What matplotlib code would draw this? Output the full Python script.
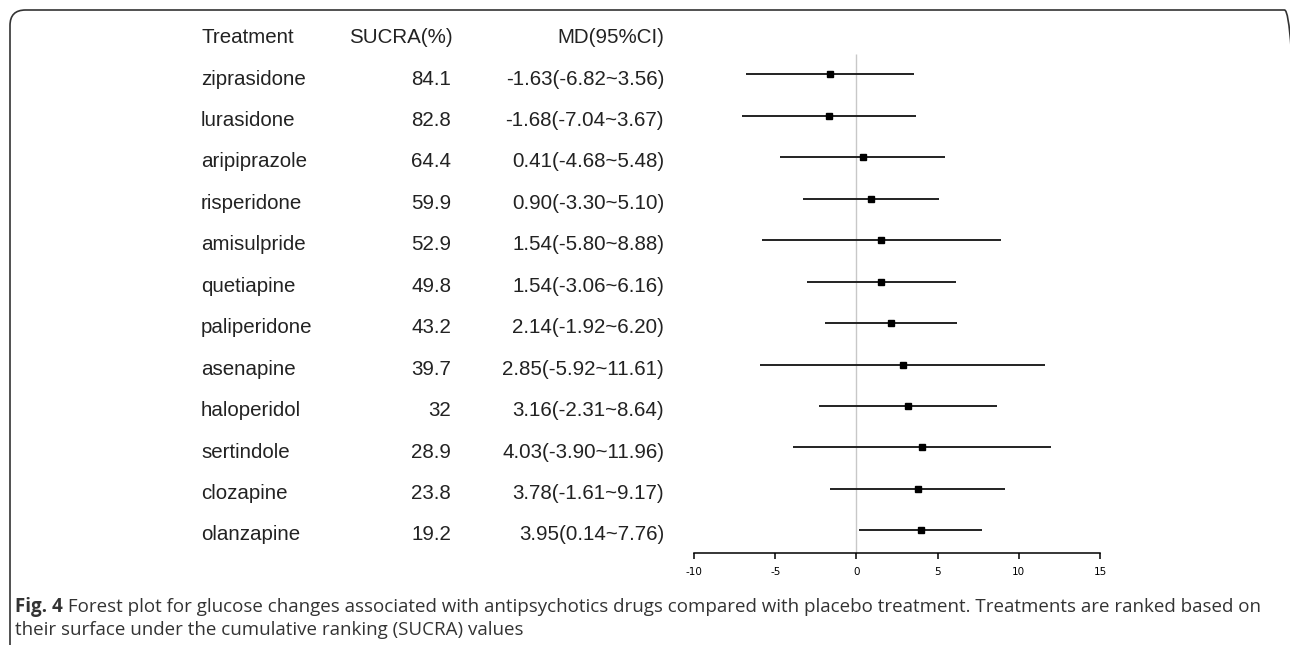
import matplotlib
matplotlib.use("Agg")
import matplotlib.pyplot as plt
import matplotlib.transforms as mtrans
from matplotlib.patches import FancyBboxPatch

plt.rcParams['axes.unicode_minus'] = False

# data
treatments = ['ziprasidone', 'lurasidone', 'aripiprazole', 'risperidone',
              'amisulpride', 'quetiapine', 'paliperidone', 'asenapine',
              'haloperidol', 'sertindole', 'clozapine', 'olanzapine']
sucra = [84.1, 82.8, 64.4, 59.9, 52.9, 49.8, 43.2, 39.7, 32, 28.9, 23.8, 19.2]
md = [-1.63, -1.68, 0.41, 0.90, 1.54, 1.54, 2.14, 2.85, 3.16, 4.03, 3.78, 3.95]
ci_low = [-6.82, -7.04, -4.68, -3.30, -5.80, -3.06, -1.92, -5.92, -2.31, -3.90, -1.61, 0.14]
ci_high = [3.56, 3.67, 5.48, 5.10, 8.88, 6.16, 6.20, 11.61, 8.64, 11.96, 9.17, 7.76]
xticks = [-10, -5, 0, 5, 10, 15]

caption_bold = 'Fig. 4'
caption_1 = (' Forest plot for glucose changes associated with antipsychotics drugs '
             'compared with placebo treatment. Treatments are ranked based on')
caption_2 = 'their surface under the cumulative ranking (SUCRA) values'

W, H = 1290, 645
fig = plt.figure(figsize=(W / 100, H / 100), dpi=100)


def fx(px):
    return px / W


def fy(py):
    return 1 - py / H


# rounded frame
frame = FancyBboxPatch((fx(10), fy(660)), fx(1290), fy(10) - fy(660),
                       boxstyle='round,pad=0,rounding_size=0.012',
                       transform=fig.transFigure, fill=False,
                       edgecolor='#333333', linewidth=1.2, mutation_aspect=2)
fig.patches.append(frame)

# forest axis, pixel box 694..1100 x 20..553
ax = fig.add_axes([fx(694), fy(553), fx(1100) - fx(694), fy(20) - fy(553)])
row0, step = 33.0, 41.45
ax.set_ylim((553 - row0) / step, (20 - row0) / step)
ax.set_xlim(-10, 15)
for s in ['top', 'right', 'left']:
    ax.spines[s].set_visible(False)
ax.spines['bottom'].set_linewidth(1.1)
ax.set_yticks([])
ax.set_xticks(xticks)
ax.set_xticklabels([str(t) for t in xticks])
ax.tick_params(axis='x', length=4, width=1.1, labelsize=7.5, pad=6)
ax.patch.set_alpha(0)

ax.vlines(0, (54 - row0) / step, (553 - row0) / step, color='#c8c8c8', linewidth=1)

rows = list(range(1, len(treatments) + 1))
ax.hlines(rows, ci_low, ci_high, color='#222222', linewidth=1.4)
ax.plot(md, rows, 's', color='black', markersize=4.8, linestyle='none')

# table text
tt = mtrans.blended_transform_factory(fig.transFigure, ax.transData)
fs = 14.8
font = 'Liberation Sans'
tc = '#222222'
off = 0.11
ax.text(fx(201), off, 'Treatment', transform=tt, ha='left', va='center',
        fontsize=fs, family=font, color=tc)
ax.text(fx(453), off, 'SUCRA(%)', transform=tt, ha='right', va='center',
        fontsize=fs, family=font, color=tc)
ax.text(fx(664), off, 'MD(95%CI)', transform=tt, ha='right', va='center',
        fontsize=fs, family=font, color=tc)
for r, name, s, m, lo, hi in zip(rows, treatments, sucra, md, ci_low, ci_high):
    ax.text(fx(201), r + off, name, transform=tt, ha='left', va='center',
            fontsize=fs, family=font, color=tc)
    ax.text(fx(451), r + off, f'{s:g}', transform=tt, ha='right', va='center',
            fontsize=fs, family=font, color=tc)
    ax.text(fx(664), r + off, f'{m:.2f}({lo:.2f}~{hi:.2f})', transform=tt,
            ha='right', va='center', fontsize=fs, family=font, color=tc)

# caption
cfs = 13.5
cc = '#333333'
t1 = fig.text(fx(15), fy(607), caption_bold, ha='left', va='center',
              fontsize=cfs, family='Open Sans', weight='bold', color=cc)
ax.annotate(caption_1, xy=(1, 0.5), xycoords=t1, ha='left', va='center',
            fontsize=cfs, family='Open Sans', color=cc,
            annotation_clip=False)
fig.text(fx(15), fy(630), caption_2, ha='left', va='center',
         fontsize=cfs, family='Open Sans', color=cc)

fig.savefig('out.png', dpi=100)
